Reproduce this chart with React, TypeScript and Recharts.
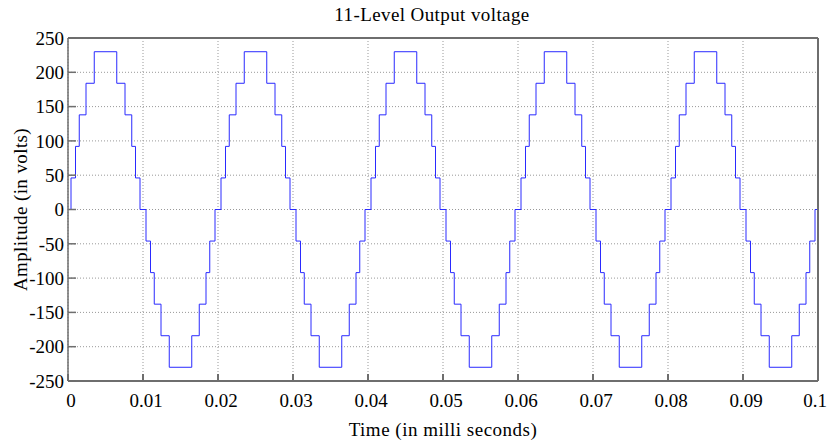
import { LineChart, Line, XAxis, YAxis, CartesianGrid } from 'recharts';

// one period of the staircase (s) and the level that starts there (V)
const periodTimes = [
  0, 0.0004, 0.001, 0.0015, 0.0024, 0.0035, 0.0065, 0.0076, 0.0085, 0.009, 0.0096,
  0.0104, 0.011, 0.0115, 0.0124, 0.0135, 0.0165, 0.0175, 0.0184, 0.0189, 0.0196,
];
const periodLevels = [
  0, 46, 92, 138, 184, 230, 184, 138, 92, 46, 0,
  -46, -92, -138, -184, -230, -184, -138, -92, -46, 0,
];
const cycleStarts = [0, 0.02, 0.04, 0.06, 0.08];
const endTime = 0.1;

const xTicks = [0, 0.01, 0.02, 0.03, 0.04, 0.05, 0.06, 0.07, 0.08, 0.09, 0.1];
const yTicks = [-250, -200, -150, -100, -50, 0, 50, 100, 150, 200, 250];

const data = [
  ...cycleStarts.flatMap((c) =>
    periodTimes.map((t, i) => ({ t: +(c + t).toFixed(5), v: periodLevels[i] }))
  ),
  { t: endTime, v: 0 },
];

const serif = '"Liberation Serif", "Times New Roman", serif';
const axisColor = '#6e6e6e';
const tickStyle = { fill: '#000', fontSize: 19, fontFamily: serif };

// x labels sit a little right of their tick, except the last one which is kept inside
const TimeTick = ({ x, y, payload, index }: any) => {
  const last = index === xTicks.length - 1;
  return (
    <text x={x + (last ? -3 : 3)} y={y} dy="0.71em" textAnchor="middle" fill="#000" fontSize={19} fontFamily={serif}>
      {String(+Number(payload.value).toFixed(2))}
    </text>
  );
};

export default function App() {
  return (
    <div style={{ position: 'absolute', left: 0, top: 0, width: 829, height: 440, background: '#fff' }}>
      <div
        style={{
          position: 'absolute',
          left: 0,
          top: 5,
          width: 864,
          textAlign: 'center',
          fontFamily: serif,
          fontSize: 19,
          letterSpacing: 0.4,
          lineHeight: '20px',
          color: '#000',
        }}
      >
        11-Level Output voltage
      </div>
      <LineChart width={829} height={440} data={data} margin={{ top: 30, right: 3, left: 0, bottom: 4 }}>
        <CartesianGrid stroke="#999" strokeDasharray="1 2" verticalValues={xTicks} horizontalValues={yTicks} />
        <XAxis
          dataKey="t"
          type="number"
          domain={[0, endTime]}
          ticks={xTicks}
          allowDataOverflow
          height={55}
          tickSize={-7}
          tickMargin={20}
          tick={<TimeTick />}
          stroke={axisColor}
          strokeWidth={2}
          label={{
            value: 'Time (in milli seconds)',
            position: 'insideBottom',
            offset: 0,
            fill: '#000',
            fontSize: 19,
            fontFamily: serif,
            letterSpacing: 0.5,
          }}
        />
        <XAxis
          xAxisId="top"
          orientation="top"
          type="number"
          domain={[0, endTime]}
          ticks={xTicks}
          allowDataOverflow
          height={8}
          tickSize={-7}
          tick={false}
          stroke={axisColor}
          strokeWidth={2}
        />
        <YAxis
          type="number"
          domain={[-250, 250]}
          ticks={yTicks}
          allowDataOverflow
          width={68}
          tickSize={-8}
          tickMargin={12}
          tick={tickStyle}
          stroke={axisColor}
          strokeWidth={1.5}
          label={{
            value: 'Amplitude (in volts)',
            angle: -90,
            position: 'insideLeft',
            offset: 20,
            fill: '#000',
            fontSize: 19,
            fontFamily: serif,
            letterSpacing: 0.4,
            style: { textAnchor: 'middle' },
          }}
        />
        <YAxis
          yAxisId="right"
          orientation="right"
          type="number"
          domain={[-250, 250]}
          ticks={yTicks}
          allowDataOverflow
          width={8}
          tickSize={-8}
          tick={false}
          stroke={axisColor}
          strokeWidth={2}
        />
        <Line
          type="stepAfter"
          dataKey="v"
          stroke="#2a2aff"
          strokeWidth={1}
          dot={false}
          isAnimationActive={false}
        />
      </LineChart>
    </div>
  );
}
